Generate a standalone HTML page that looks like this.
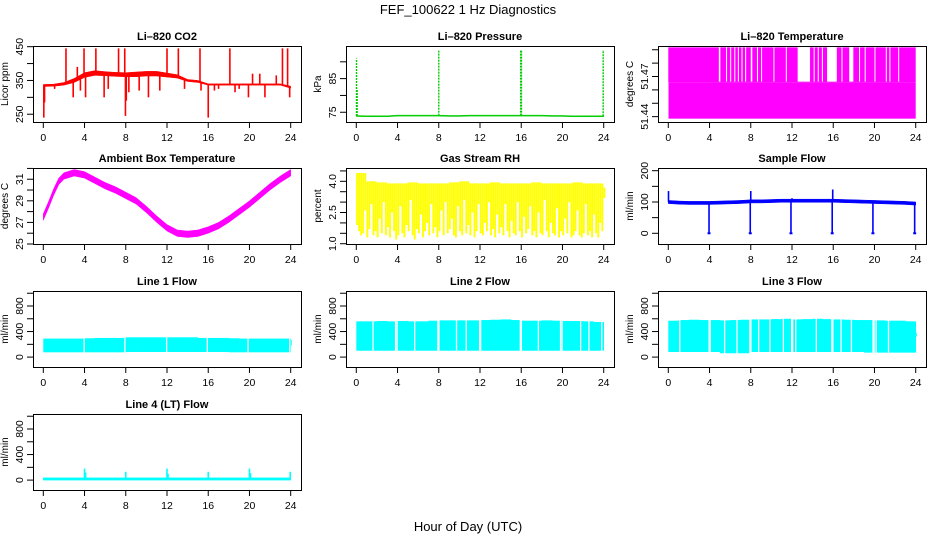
<!DOCTYPE html>
<html><head><meta charset="utf-8"><style>
html,body{margin:0;padding:0;background:#fff;}
svg{display:block;font-family:"Liberation Sans",Arial,sans-serif;}
</style></head><body>
<svg id="c" width="936" height="540" viewBox="0 0 936 540">
<text x="468" y="14" text-anchor="middle" font-size="13">FEF_100622  1 Hz Diagnostics</text>
<text x="468" y="531" text-anchor="middle" font-size="13">Hour of Day (UTC)</text>
</svg>
<script>
// ---- data ----
const xTicks = [0,4,8,12,16,20,24];
const hours = [0,1,2,3,4,5,6,7,8,9,10,11,12,13,14,15,16,17,18,19,20,21,22,23,24];
// CO2
const co2Mid = [335,336,340,350,366,372,370,368,367,368,370,370,366,362,350,347,338,338,338,338,338,338,338,338,330];
const co2Half = [3,3,4,6,7,7,6,6,6,7,7,7,6,5,3,3,2,2,2,2,2,2,2,2,3];
const co2SpikeT = [0.05,0.12,1.1,2.2,2.9,3.3,3.6,3.95,4.1,5.1,5.9,6.3,7.3,7.9,7.97,8.05,8.3,9.3,10.2,11.3,12.0,13.1,13.7,15.2,15.3,16.0,16.6,17.0,18.1,18.6,19.0,19.9,20.3,21.0,21.5,22.6,23.2,23.7,23.9];
const co2SpikeV = [240,285,325,445,300,390,320,445,300,445,300,325,445,445,245,290,315,320,300,320,445,445,325,445,320,240,320,325,445,315,325,300,370,370,300,365,445,445,300];
// Pressure
const presBase = [73.9,73.8,73.8,73.8,74.0,74.0,74.0,74.0,74.0,73.9,73.9,74.0,74.0,74.0,74.0,74.0,74.0,74.0,74.0,73.9,73.9,73.8,73.8,73.8,73.8];
const presSpikeT = [0.02,0.08,8.0,15.95,16.02,23.95];
const presSpikeV = [91,82,93.5,93.5,93.5,93.5];
// Li-820 temperature (three quantised levels)
const tempLevels = [51.4385,51.4654,51.4918];
const tempGapStart = [4.9,5.6,6.0,6.4,6.75,7.1,7.45,8.0,8.6,9.0,10.2,11.4,12.55,14.1,14.5,14.9,15.4,16.8,17.55,18.5,19.05,20.0,21.1,21.45,22.3];
const tempGapEnd   = [5.05,5.7,6.1,6.5,6.85,7.2,7.55,8.15,8.7,9.05,10.25,11.5,13.75,14.2,14.55,15.0,16.35,16.9,17.95,18.6,19.15,20.05,21.2,21.55,22.35];
// Ambient box temperature
const ambT = [0,0.5,1,1.5,2,3,4,5,6,7,8,9,10,11,12,13,14,15,16,17,18,19,20,21,22,23,24];
const ambV = [27.5,28.6,29.8,30.8,31.3,31.6,31.4,30.9,30.4,30.0,29.5,29.0,28.2,27.3,26.5,26.0,25.9,26.0,26.3,26.7,27.3,28.0,28.7,29.5,30.3,31.0,31.6];
// Gas stream RH
const rhTop = [4.4,4.0,3.95,3.9,3.9,3.95,3.9,3.9,3.9,3.95,4.0,3.9,3.9,3.95,3.9,3.9,3.9,3.95,3.9,3.9,3.9,3.95,3.9,3.9,3.7];
const rhLow = [1.9,1.6,1.4,1.5,2.6,1.3,1.7,2.9,1.4,1.6, 1.3,2.2,1.5,3.0,1.4,1.8,1.3,2.5,1.6,1.2, 1.4,2.8,1.5,1.3,1.9,1.6,3.1,1.4,1.2,1.7, 1.5,2.4,1.3,1.6,2.0,1.4,2.9,1.5,1.8,1.3, 1.6,2.6,1.4,3.0,1.5,1.7,2.2,1.4,1.3,2.8, 1.6,1.4,3.1,1.5,1.9,1.4,2.5,1.3,1.6,2.9, 1.5,1.4,2.0,1.6,3.0,1.4,1.7,1.3,2.4,1.5, 1.8,1.4,2.9,1.6,1.3,2.1,1.5,1.4,3.0,1.6, 1.3,2.3,1.5,1.7,2.8,1.4,1.6,1.3,2.5,1.5, 1.4,3.1,1.6,1.3,2.0,1.5,1.4,2.7,1.3,1.6, 1.4,2.2,1.5,3.0,1.3,1.4,1.6,2.6,1.4,1.3, 1.5,2.9,1.4,1.6,1.3,2.4,1.5,1.3,2.0,1.6, 3.2];
// Sample flow
const sfMid = [100,98,97,97,97,98,99,100,102,102,103,104,104,104,104,104,104,103,102,101,100,99,98,97,95];
const sfDipT = [3.95,7.95,11.9,15.9,19.85,23.9];
const sfDipV = [0,0,0,0,0,0];
const sfSpikeT = [0.02,8.0,12.0,15.95];
const sfSpikeV = [135,135,112,140];
// Line flows
const l1Top = [290,290,290,290,295,300,300,300,310,310,310,310,310,310,310,300,300,300,295,290,290,290,290,290,270];
const l1Low = [75,75,75,75,75,75,75,75,80,80,80,80,80,80,80,80,80,80,75,75,75,75,75,75,180];
const l1Gaps = [3.9,7.85,11.9,15.85,19.8,23.85];
const l2Top = [560,560,565,560,565,560,560,570,575,575,575,575,580,585,590,580,570,570,575,570,565,565,560,550,430];
const l2Low = [100,100,100,100,100,100,100,100,100,100,100,100,100,100,100,100,100,100,100,100,100,100,100,100,430];
const l2Gaps = [1.56,3.75,3.9,5.6,7.85,7.95,9.66,10.6,11.9,12.0,15.85,15.95,17.6,19.75,19.9,21.7,22.5,23.75];
const l3Top = [570,580,585,580,580,575,580,585,590,590,595,600,590,595,600,595,590,585,580,580,575,570,570,560,380];
const l3Low = [80,80,80,80,80,60,60,60,80,80,80,80,80,80,80,80,80,80,80,70,70,70,70,70,320];
const l3Gaps = [1.05,3.9,4.0,5.4,6.6,7.85,7.95,8.7,9.8,11.1,11.9,12.0,12.3,14.3,15.8,15.9,16.7,17.7,19.8,19.9,20.1,21.3];
const l4Base = [20,20,20,20,20,20,20,20,20,20,20,20,20,20,20,20,20,20,20,20,20,20,20,20,20];
const l4SpikeT = [4.0,4.1,8.0,12.0,12.1,16.0,20.0,20.1,23.95];
const l4SpikeV = [180,120,130,180,100,130,180,110,130];
// axis ticks
const co2Ticks=[250,300,350,400,450], co2Labels=[250,350,450];
const presTicks=[75,80,85,90], presLabels=[75,85];
const tempTicks=[51.44,51.45,51.46,51.47,51.48,51.49], tempLabels=["51.44",null,null,"51.47",null,null];
const ambTicks=[25,26,27,28,29,30,31,32], ambLabels=[25,27,29,31];
const rhTicks=[1.0,1.5,2.0,2.5,3.0,3.5,4.0,4.5], rhLabels=[1.0,2.5,4.0];
const sfTicks=[0,50,100,150,200], sfLabels=[0,100,200];
const flowTicks=[0,200,400,600,800,1000], flowLabels=[0,400,800];

// ---- drawing ----
const svg=document.getElementById('c');
const NS='http://www.w3.org/2000/svg';
function mk(parent,tag,attrs,txt){const e=document.createElementNS(NS,tag);for(const k in attrs)e.setAttribute(k,attrs[k]);if(txt!==undefined)e.textContent=txt;parent.appendChild(e);return e;}
const colLeft=[33,346,658], rowTop=[46,168,291,414], W=268, H=76;

function panel(name,col,row,title,ylab,dom,ticks,labels,fmt){
  const L=colLeft[col],T=rowTop[row];
  const g=mk(svg,'g',{});
  
  
  const x=t=>L+10.3+t*(W-20.6)/24;
  const y=v=>T+H-(v-dom[0])/(dom[1]-dom[0])*H;
  const plot=mk(g,'g',{});
  
  
  const tt=mk(g,'text',{x:L+W/2,y:T-6,'text-anchor':'middle','font-size':11,'font-weight':'bold'},title);
  
  
  const yl=mk(g,'text',{x:0,y:0,transform:`translate(${L-25},${T+H/2}) rotate(-90)`,'text-anchor':'middle','font-size':10},ylab);
  
  
  const ax=mk(g,'g',{stroke:'#000','stroke-width':1});
  
  
  xTicks.forEach(t=>{
    mk(ax,'line',{x1:x(t),x2:x(t),y1:T+H,y2:T+H+6});
    const lb=mk(g,'text',{x:x(t),y:T+H+19,'text-anchor':'middle','font-size':10.5},String(t));
    
    
  });
  ticks.forEach((v,i)=>{
    mk(ax,'line',{x1:L-6,x2:L,y1:y(v),y2:y(v)});
    const lab = Array.isArray(labels)&&typeof labels[0]==='string'||labels[0]===null ? labels[i] : (labels.includes(v)?(fmt?fmt(v):String(v)):null);
    if(lab!==null&&lab!==undefined){
      const tl=mk(g,'text',{x:0,y:0,transform:`translate(${L-10},${y(v)}) rotate(-90)`,'text-anchor':'middle','font-size':10.5},lab);
      
      
    }
  });
  const box=mk(g,'rect',{x:L+0.5,y:T+0.5,width:W,height:H,fill:'none',stroke:'#000'});
  
  
  return {x,y,g:plot};
}
function band(p,ts,lo,hi,color){
  let d='M'+ts.map((t,i)=>p.x(t)+','+p.y(hi[i])).join(' L');
  d+=' L'+ts.map((t,i)=>p.x(t)+','+p.y(lo[i])).reverse().join(' L')+'Z';
  return mk(p.g,'path',{d,fill:color,stroke:color,'stroke-width':0.5});
}
function vline(p,t,v0,v1,color,w,extra){const a={x1:p.x(t),x2:p.x(t),y1:p.y(v0),y2:p.y(v1),stroke:color,'stroke-width':w||1.5};if(extra)Object.assign(a,extra);return mk(p.g,'line',a);}
function interp(ts,vs,t){for(let i=0;i<ts.length-1;i++){if(t<=ts[i+1]){const f=(t-ts[i])/(ts[i+1]-ts[i]);return vs[i]+f*(vs[i+1]-vs[i]);}}return vs[vs.length-1];}

// CO2
let p=panel('co2',0,0,'Li\u2013820 CO2','Licor ppm',[227,452],co2Ticks,co2Labels);
band(p,hours,co2Mid.map((v,i)=>v-co2Half[i]),co2Mid.map((v,i)=>v+co2Half[i]),'#ff0000');
co2SpikeT.forEach((t,i)=>vline(p,t,interp(hours,co2Mid,t),co2SpikeV[i],'#ff0000',1.6));

// Pressure
p=panel('pressure',1,0,'Li\u2013820 Pressure','kPa',[72.1,94.7],presTicks,presLabels);
band(p,hours,presBase.map(v=>v-0.15),presBase.map(v=>v+0.15),'#00cc00');
presSpikeT.forEach((t,i)=>vline(p,t,interp(hours,presBase,t),presSpikeV[i],'#00cc00',1.4,{'stroke-dasharray':'2,1'}));

// Li-820 temperature
p=panel('li820-temp',2,0,'Li\u2013820 Temperature','degrees C',[51.436,51.4928],tempTicks,tempLabels);
mk(p.g,'rect',{x:p.x(0.02),y:p.y(tempLevels[1]),width:p.x(24)-p.x(0.02),height:p.y(tempLevels[0])-p.y(tempLevels[1]),fill:'#ff00ff'});
mk(p.g,'rect',{x:p.x(0),y:p.y(tempLevels[2]),width:p.x(24)-p.x(0),height:p.y(tempLevels[1])-p.y(tempLevels[2]),fill:'#ff00ff'});
tempGapStart.forEach((s,i)=>mk(p.g,'rect',{x:p.x(s),y:p.y(tempLevels[2])-1,width:Math.max(1,p.x(tempGapEnd[i])-p.x(s)),height:p.y(tempLevels[1])-p.y(tempLevels[2]),fill:'#fff'}));

// Ambient
p=panel('ambient-temp',0,1,'Ambient Box Temperature','degrees C',[25,32.04],ambTicks,ambLabels);
band(p,ambT,ambV.map(v=>v-0.3),ambV.map(v=>v+0.3),'#ff00ff');

// RH
p=panel('gas-rh',1,1,'Gas Stream RH','percent',[0.986,4.64],rhTicks,rhLabels,v=>v.toFixed(1));
rhLow.forEach((lo,i)=>{const t=i*0.2;const top=rhTop[Math.min(24,Math.floor(t))];mk(p.g,'rect',{x:p.x(t)-0.2,y:p.y(top),width:(p.x(0.2)-p.x(0))*0.9,height:p.y(lo)-p.y(top),fill:'#ffff00'});});

// Sample flow
p=panel('sample-flow',2,1,'Sample Flow','ml/min',[-34.2,208.6],sfTicks,sfLabels);
band(p,hours,sfMid.map(v=>v-5),sfMid.map(v=>v+5),'#0000ff');
sfDipT.forEach((t,i)=>{vline(p,t,interp(hours,sfMid,t),sfDipV[i],'#0000ff',1.6);mk(p.g,'line',{x1:p.x(t)-1.5,x2:p.x(t)+1.5,y1:p.y(sfDipV[i]),y2:p.y(sfDipV[i]),stroke:'#0000ff','stroke-width':2});});
sfSpikeT.forEach((t,i)=>vline(p,t,interp(hours,sfMid,t),sfSpikeV[i],'#0000ff',1.6));

// Line flows
function flowPanel(name,col,row,title,top,low,gaps){
  const q=panel(name,col,row,title,'ml/min',[-155,1035],flowTicks,flowLabels);
  for(let i=0;i<24;i++){mk(q.g,'rect',{x:q.x(i),y:q.y(top[i]),width:q.x(i+1)-q.x(i)+0.3,height:q.y(low[i])-q.y(top[i]),fill:'#00ffff'});}
  vline(q,24,low[24],top[24],'#00ffff',2);
  gaps.forEach(t=>mk(q.g,'rect',{x:q.x(t),y:q.y(1000),width:1.3,height:q.y(-100)-q.y(1000),fill:'#fff'}));
  return q;
}
flowPanel('line1-flow',0,2,'Line 1 Flow',l1Top,l1Low,l1Gaps);
flowPanel('line2-flow',1,2,'Line 2 Flow',l2Top,l2Low,l2Gaps);
flowPanel('line3-flow',2,2,'Line 3 Flow',l3Top,l3Low,l3Gaps);
p=panel('line4-flow',0,3,'Line 4 (LT) Flow','ml/min',[-155,1035],flowTicks,flowLabels);
band(p,hours,l4Base.map(v=>v-20),l4Base.map(v=>v+15),'#00ffff');
l4SpikeT.forEach((t,i)=>vline(p,t,interp(hours,l4Base,t),l4SpikeV[i],'#00ffff',1.6));
</script>
</body></html>
